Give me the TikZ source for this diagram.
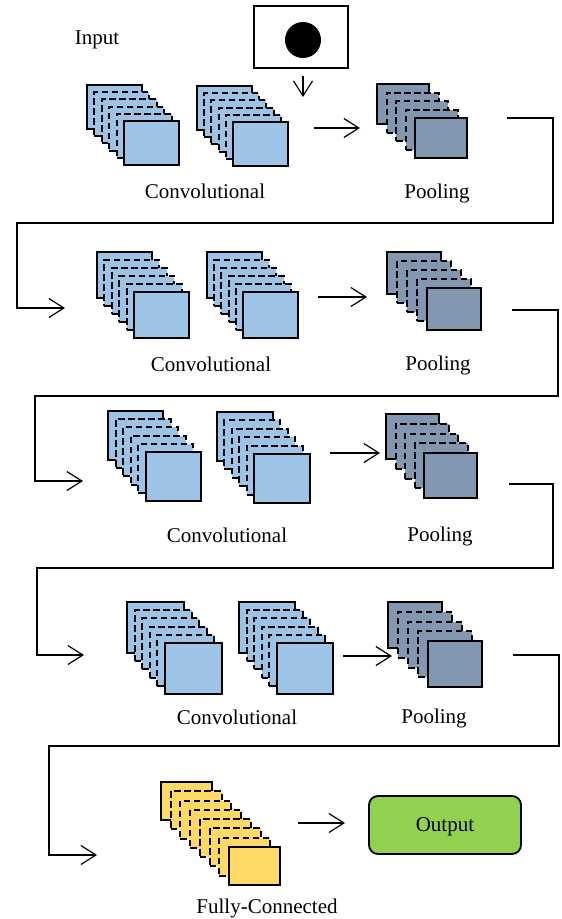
\documentclass[tikz,border=0pt]{standalone}
\usepackage{fontspec}
\setmainfont{Liberation Serif}
\usetikzlibrary{arrows.meta}
\definecolor{convblue}{HTML}{9DC3E6}
\definecolor{poolgray}{HTML}{8497B0}
\definecolor{fcyellow}{HTML}{FFD966}
\definecolor{outgreen}{HTML}{92D050}
\tikzset{
  sheet/.style={rectangle, draw=black, line width=2pt, inner sep=0pt, outer sep=0pt, anchor=north west},
  dashsheet/.style={dash pattern=on 6.5pt off 3.5pt},
  solidsheet/.style={solid},
  lbl/.style={font=\fontsize{21}{25}\selectfont, anchor=base, inner sep=0pt},
  conn/.style={draw=black, line width=1.2pt, -{Straight Barb[length=15pt,width=19pt,line width=1.2pt]}},
}
\newcommand\mystack[9]{%
  \foreach \k in {1,...,#6}{%
    \pgfmathsetmacro\sx{#2+(\k-1)*#7}%
    \pgfmathsetmacro\sy{#3+(\k-1)*#8}%
    \ifnum\k=1 \tikzset{cursheet/.style={solidsheet}}%
    \else\ifnum\k=#6 \tikzset{cursheet/.style={solidsheet}}%
    \else \tikzset{cursheet/.style={dashsheet}}\fi\fi
    \node[sheet, cursheet, fill=#9, minimum width=#4pt, minimum height=#5pt] (#1-\k) at (\sx,\sy) {};
  }%
}
\begin{document}
\begin{tikzpicture}[x=1pt,y=-1pt]
\useasboundingbox (0,0) rectangle (562,919);

% input
\node[lbl] (inlbl) at (97,44) {Input};
\node[rectangle, draw=black, line width=1.8pt, minimum width=94pt, minimum height=62pt, inner sep=0pt] (inbox) at (301,37) {};
\node[circle, fill=black, minimum size=36pt, inner sep=0pt] (dot) at (303,40) {};
\coordinate (inA) at (303,76);
\coordinate (inB) at (303,97);
\draw[conn] (inA) -- (inB);

% row 1
\mystack{c1a}{87}{85}{55}{44}{6}{7.4}{7.2}{convblue}
\mystack{c1b}{197}{86}{55}{44}{6}{7.2}{7.2}{convblue}
\mystack{p1}{377}{84}{52}{40}{5}{9.5}{8.5}{poolgray}
\coordinate (a1s) at (314,128);
\coordinate (a1e) at (360,128);
\draw[conn] (a1s) -- (a1e);
\node[lbl] (conv1) at (205,198) {Convolutional};
\node[lbl] (pool1) at (437,198) {Pooling};
\coordinate (k1s) at (507,118);
\coordinate (k1e) at (65,308);
\draw[conn] (k1s) -| (553,223) -| (17,308) -- (k1e);

% row 2
\mystack{c2a}{97}{252}{55}{46}{6}{7.4}{8}{convblue}
\mystack{c2b}{207}{252}{55}{46}{6}{7.2}{8}{convblue}
\mystack{p2}{387}{252}{54}{42}{5}{10}{9}{poolgray}
\coordinate (a2s) at (318,297);
\coordinate (a2e) at (367,297);
\draw[conn] (a2s) -- (a2e);
\node[lbl] (conv2) at (211,371) {Convolutional};
\node[lbl] (pool2) at (438,370) {Pooling};
\coordinate (k2s) at (512,310);
\coordinate (k2e) at (83,481);
\draw[conn] (k2s) -| (558,396) -| (35,481) -- (k2e);

% row 3
\mystack{c3a}{108}{411}{55}{49}{6}{7.6}{8.2}{convblue}
\mystack{c3b}{217}{412}{56}{49}{6}{7.4}{8.4}{convblue}
\mystack{p3}{386}{414}{53}{45}{5}{9.5}{9.75}{poolgray}
\coordinate (a3s) at (330,453);
\coordinate (a3e) at (380,453);
\draw[conn] (a3s) -- (a3e);
\node[lbl] (conv3) at (227,542) {Convolutional};
\node[lbl] (pool3) at (440,541) {Pooling};
\coordinate (k3s) at (509,484);
\coordinate (k3e) at (84,655);
\draw[conn] (k3s) -| (553,568) -| (37,655) -- (k3e);

% row 4
\mystack{c4a}{127}{602}{57}{51}{6}{7.6}{8.2}{convblue}
\mystack{c4b}{239}{602}{56}{51}{6}{7.6}{8.2}{convblue}
\mystack{p4}{388}{602}{54}{46}{5}{10}{9.75}{poolgray}
\coordinate (a4s) at (343,656);
\coordinate (a4e) at (392,656);
\draw[conn] (a4s) -- (a4e);
\node[lbl] (conv4) at (237,724) {Convolutional};
\node[lbl] (pool4) at (434,723) {Pooling};
\coordinate (k4s) at (513,655);
\coordinate (k4e) at (97,855);
\draw[conn] (k4s) -| (559,746) -| (49,855) -- (k4e);

% row 5
\mystack{fc}{161}{782}{51}{38}{8}{9.71}{9.29}{fcyellow}
\node[lbl] (fclbl) at (267,913) {Fully-Connected};
\coordinate (a5s) at (298,823);
\coordinate (a5e) at (345,823);
\draw[conn] (a5s) -- (a5e);
\node[rectangle, draw=black, line width=1.8pt, rounded corners=9pt, fill=outgreen, minimum width=152pt, minimum height=58pt, inner sep=0pt, text depth=0pt, font=\fontsize{21}{25}\selectfont] (out) at (445,825) {Output};
\end{tikzpicture}
\end{document}
